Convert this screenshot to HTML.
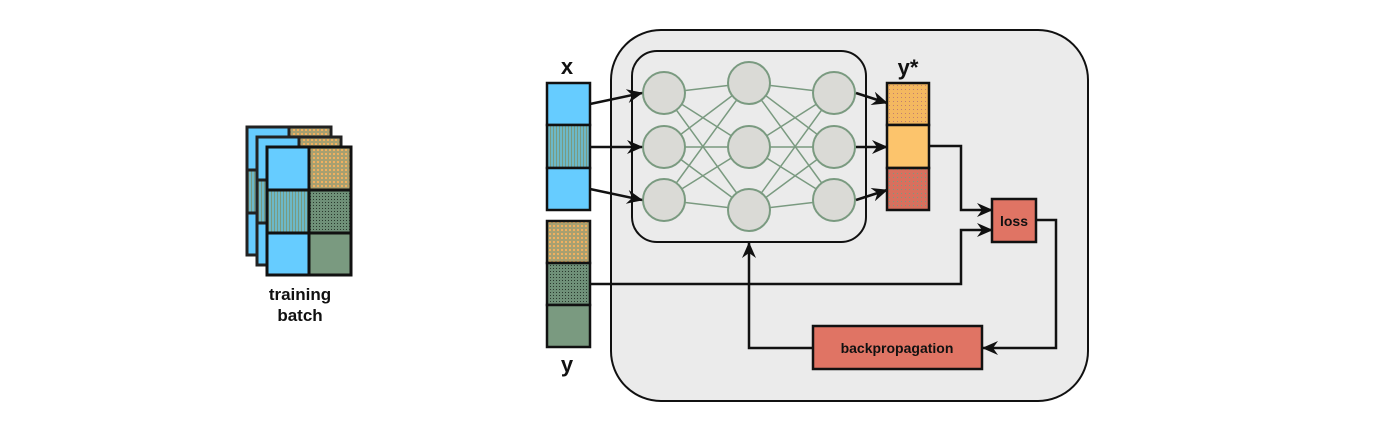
<!DOCTYPE html>
<html><head><meta charset="utf-8"><style>
html,body{margin:0;padding:0;background:#fff;width:1400px;height:438px;overflow:hidden}
text{font-family:"Liberation Sans",sans-serif;font-weight:bold;fill:#111}
</style></head><body>
<svg width="1400" height="438" viewBox="0 0 1400 438">
<defs>
<marker id="ah" viewBox="0 0 16 14" refX="15" refY="7" markerWidth="16" markerHeight="14" orient="auto" markerUnits="userSpaceOnUse">
<path d="M0,0 L16,7 L0,14 L5,7 z" fill="#111"/>
</marker>
<pattern id="pOr" width="4" height="4" patternUnits="userSpaceOnUse"><rect width="4" height="4" fill="#f4b860"/><rect x="1" y="1" width="1" height="1" fill="#c08070"/></pattern>
<pattern id="pRed" width="4" height="4" patternUnits="userSpaceOnUse"><rect width="4" height="4" fill="#d8705e"/><rect x="1" y="1" width="1" height="1" fill="#7a9a80"/></pattern>
<pattern id="pBG" width="3" height="3" patternUnits="userSpaceOnUse"><rect width="3" height="3" fill="#6cb8c8"/><rect x="1" y="0" width="1" height="3" fill="#7a9a80"/></pattern>
<pattern id="pGd" width="3" height="3" patternUnits="userSpaceOnUse"><rect width="3" height="3" fill="#6f9078"/><rect x="1" y="1" width="1" height="1" fill="#2a3a2e"/></pattern>
<pattern id="pGO" width="4" height="4" patternUnits="userSpaceOnUse"><rect width="4" height="4" fill="#a8a070"/><rect x="1" y="1" width="2" height="2" fill="#f0b060"/></pattern>
</defs>

<g>
  <g transform="translate(-20,-20)">
    <rect x="267" y="147" width="84" height="128" fill="#66ccff" stroke="#222" stroke-width="3"/>
    <rect x="309" y="147" width="42" height="43" fill="url(#pGO)" stroke="#222" stroke-width="3"/>
    <rect x="267" y="190" width="42" height="43" fill="url(#pBG)" stroke="#222" stroke-width="3"/>
  </g>
  <g transform="translate(-10,-10)">
    <rect x="267" y="147" width="84" height="128" fill="#66ccff" stroke="#222" stroke-width="3"/>
    <rect x="309" y="147" width="42" height="43" fill="url(#pGO)" stroke="#222" stroke-width="3"/>
    <rect x="267" y="190" width="42" height="43" fill="url(#pBG)" stroke="#222" stroke-width="3"/>
  </g>
  <rect x="267" y="147" width="42" height="43" fill="#66ccff" stroke="#111" stroke-width="3"/>
  <rect x="309" y="147" width="42" height="43" fill="url(#pGO)" stroke="#111" stroke-width="3"/>
  <rect x="267" y="190" width="42" height="43" fill="url(#pBG)" stroke="#111" stroke-width="3"/>
  <rect x="309" y="190" width="42" height="43" fill="url(#pGd)" stroke="#111" stroke-width="3"/>
  <rect x="267" y="233" width="42" height="42" fill="#66ccff" stroke="#111" stroke-width="3"/>
  <rect x="309" y="233" width="42" height="42" fill="#7a9a80" stroke="#111" stroke-width="3"/>
  <text x="300" y="300" font-size="17" text-anchor="middle">training</text>
  <text x="300" y="321" font-size="17" text-anchor="middle">batch</text>
</g>

<rect x="611" y="30" width="477" height="371" rx="50" fill="#ebebeb" stroke="#111" stroke-width="2"/>
<rect x="632" y="51" width="234" height="191" rx="25" fill="#ebebeb" stroke="#111" stroke-width="2"/>

<g stroke="#7a9a80" stroke-width="1.5">
  <line x1="664" y1="93" x2="749" y2="83"/><line x1="664" y1="93" x2="749" y2="147"/><line x1="664" y1="93" x2="749" y2="210"/>
  <line x1="664" y1="147" x2="749" y2="83"/><line x1="664" y1="147" x2="749" y2="147"/><line x1="664" y1="147" x2="749" y2="210"/>
  <line x1="664" y1="200" x2="749" y2="83"/><line x1="664" y1="200" x2="749" y2="147"/><line x1="664" y1="200" x2="749" y2="210"/>
  <line x1="749" y1="83" x2="834" y2="93"/><line x1="749" y1="83" x2="834" y2="147"/><line x1="749" y1="83" x2="834" y2="200"/>
  <line x1="749" y1="147" x2="834" y2="93"/><line x1="749" y1="147" x2="834" y2="147"/><line x1="749" y1="147" x2="834" y2="200"/>
  <line x1="749" y1="210" x2="834" y2="93"/><line x1="749" y1="210" x2="834" y2="147"/><line x1="749" y1="210" x2="834" y2="200"/>
</g>
<g fill="#dadad6" stroke="#7a9a80" stroke-width="2">
  <circle cx="664" cy="93" r="21"/><circle cx="664" cy="147" r="21"/><circle cx="664" cy="200" r="21"/>
  <circle cx="749" cy="83" r="21"/><circle cx="749" cy="147" r="21"/><circle cx="749" cy="210" r="21"/>
  <circle cx="834" cy="93" r="21"/><circle cx="834" cy="147" r="21"/><circle cx="834" cy="200" r="21"/>
</g>

<g>
  <text x="567" y="74" font-size="22" text-anchor="middle">x</text>
  <rect x="547" y="83" width="43" height="42" fill="#66ccff" stroke="#111" stroke-width="2.5"/>
  <rect x="547" y="125" width="43" height="43" fill="url(#pBG)" stroke="#111" stroke-width="2.5"/>
  <rect x="547" y="168" width="43" height="42" fill="#66ccff" stroke="#111" stroke-width="2.5"/>
</g>
<g>
  <rect x="547" y="221" width="43" height="42" fill="url(#pGO)" stroke="#111" stroke-width="2.5"/>
  <rect x="547" y="263" width="43" height="42" fill="url(#pGd)" stroke="#111" stroke-width="2.5"/>
  <rect x="547" y="305" width="43" height="42" fill="#7a9a80" stroke="#111" stroke-width="2.5"/>
  <text x="567" y="372" font-size="22" text-anchor="middle">y</text>
</g>
<g>
  <text x="908" y="75" font-size="22" text-anchor="middle">y*</text>
  <rect x="887" y="83" width="42" height="42" fill="url(#pOr)" stroke="#111" stroke-width="2.5"/>
  <rect x="887" y="125" width="42" height="43" fill="#fcc46c" stroke="#111" stroke-width="2.5"/>
  <rect x="887" y="168" width="42" height="42" fill="url(#pRed)" stroke="#111" stroke-width="2.5"/>
</g>

<g stroke="#111" stroke-width="2.5" fill="none">
  <line x1="590" y1="104" x2="642" y2="93" marker-end="url(#ah)"/>
  <line x1="590" y1="147" x2="642" y2="147" marker-end="url(#ah)"/>
  <line x1="590" y1="189" x2="642" y2="200" marker-end="url(#ah)"/>
  <line x1="856" y1="93" x2="887" y2="103" marker-end="url(#ah)"/>
  <line x1="856" y1="147" x2="887" y2="147" marker-end="url(#ah)"/>
  <line x1="856" y1="200" x2="887" y2="190" marker-end="url(#ah)"/>
  <polyline points="929,146 961,146 961,210 992,210" marker-end="url(#ah)"/>
  <polyline points="590,284 961,284 961,230 992,230" marker-end="url(#ah)"/>
  <polyline points="1036,220 1056,220 1056,348 983,348" marker-end="url(#ah)"/>
  <polyline points="813,348 749,348 749,243" marker-end="url(#ah)"/>
</g>

<rect x="992" y="199" width="44" height="43" fill="#e07464" stroke="#111" stroke-width="2.5"/>
<text x="1014" y="226" font-size="14" text-anchor="middle">loss</text>
<rect x="813" y="326" width="169" height="43" fill="#e07464" stroke="#111" stroke-width="2.5"/>
<text x="897" y="353" font-size="14" text-anchor="middle">backpropagation</text>
</svg>
</body></html>
